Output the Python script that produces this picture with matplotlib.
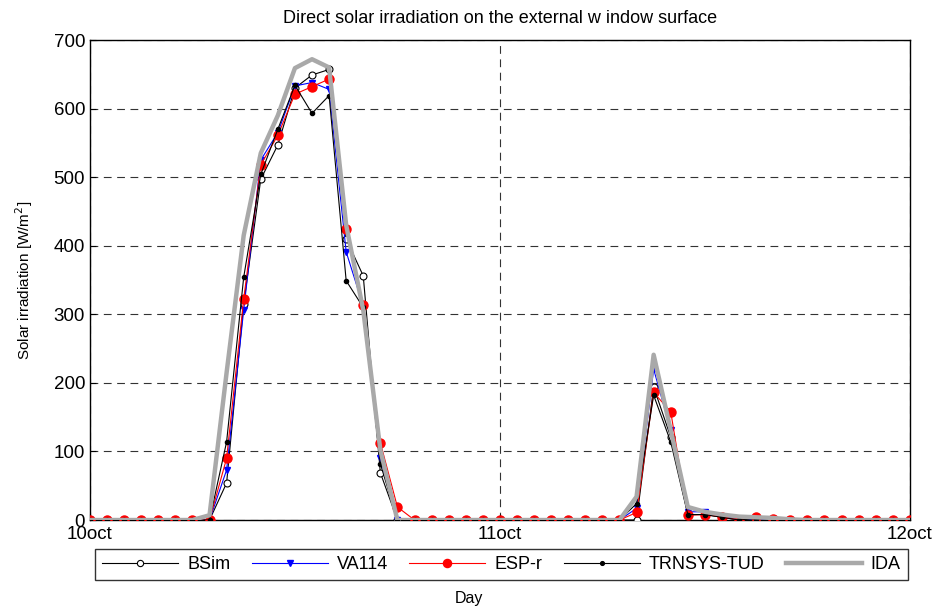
import matplotlib
matplotlib.use("Agg")
import matplotlib.pyplot as plt
import numpy as np

plt.rcParams['font.family'] = ['Liberation Sans', 'DejaVu Sans']

hours = np.arange(49)
xtick_pos = [0, 24, 48]
xtick_labels = ["10oct", "11oct", "12oct"]

bsim = [0, 0, 0, 0, 0, 0, 0, 0, 54, 315, 497, 547, 630, 649, 657, 410, 356, 69, 0,
        0, 0, 0, 0, 0, 0, 0, 0, 0, 0, 0, 0, 0, 0, 194, 121, 8, 8, 4, 0, 2, 1,
        0, 0, 0, 0, 0, 0, 0, 0]
va114 = [0, 0, 0, 0, 0, 0, 0, 0, 73, 306, 525, 565, 633, 638, 628, 391, 312, 90, 0,
         0, 0, 0, 0, 0, 0, 0, 0, 0, 0, 0, 0, 0, 17, 220, 131, 12, 12, 5, 2, 0, 2,
         0, 0, 0, 0, 0, 0, 0, 0]
espr = [0, 0, 0, 0, 0, 0, 0, 0, 90, 322, 518, 561, 621, 632, 643, 425, 313, 113, 19,
        0, 0, 0, 0, 0, 0, 0, 0, 0, 0, 0, 0, 0, 11, 186, 158, 7, 8, 5, 0, 4, 2,
        0, 0, 0, 0, 0, 0, 0, 0]
trnsys = [0, 0, 0, 0, 0, 0, 0, 0, 114, 354, 504, 570, 634, 593, 619, 349, 310, 82, 0,
          0, 0, 0, 0, 0, 0, 0, 0, 0, 0, 0, 0, 0, 24, 182, 114, 8, 8, 4, 0, 2, 1,
          0, 0, 0, 0, 0, 0, 0, 0]
ida = [0, 0, 0, 0, 0, 0, 0, 7, 215, 415, 535, 590, 659, 672, 660, 430, 306, 102, 0,
       0, 0, 0, 0, 0, 0, 0, 0, 0, 0, 0, 0, 0, 34, 241, 131, 19, 12, 8, 5, 4, 3,
       1, 0, 0, 0, 0, 0, 0, 0]

W, H = 938, 609
fig = plt.figure(figsize=(W / 100, H / 100), dpi=100)
ax = fig.add_axes([0.0959, 0.1461, 0.8741, 0.7882])

ax.plot(hours, bsim, color='black', lw=0.8, marker='o', ms=5, mfc='white', mec='black',
        mew=0.8, label='BSim', zorder=3)
ax.plot(hours, va114, color='blue', lw=0.8, marker='v', ms=5, mfc='blue', mec='blue',
        label='VA114', zorder=3)
ax.plot(hours, espr, color='red', lw=0.8, marker='o', ms=6.5, mfc='red', mec='red',
        label='ESP-r', zorder=3)
ax.plot(hours, trnsys, color='black', lw=0.8, marker='o', ms=3, mfc='black', mec='black',
        label='TRNSYS-TUD', zorder=4)
ax.plot(hours, ida, color='#a9a9a9', lw=3.2, label='IDA', zorder=5)

ax.set_xlim(0, 48)
ax.set_ylim(0, 700)
ax.set_xticks(xtick_pos)
ax.set_xticklabels(xtick_labels)
ax.set_yticks(np.arange(0, 701, 100))
ax.tick_params(direction='in', labelsize=13.5, length=4)
ax.tick_params(axis='x', pad=4)
ax.grid(True, color='#333333', linestyle=(0, (7, 5)), lw=0.8)
for s in ax.spines.values():
    s.set_linewidth(1.0)

ax.set_title("Direct solar irradiation on the external w indow surface", fontsize=13, pad=12)
ax.set_ylabel("Solar irradiation [W/m$^2$]", fontsize=11)
ax.yaxis.set_label_coords(-0.067, 0.5)
fig.text(0.5, 0.018, "Day", ha='center', va='center', fontsize=11.5)

# legend box: centred at x ~501, y ~564 (pixels from top-left)
target_w = 813
cx, cy = (91 + 912) / 2 / W, 1 - (548 + 581) / 2 / H
fs = 13
fs_px = fs * 100 / 72
colsp = 2.0
leg = None
for _ in range(3):
    if leg is not None:
        leg.remove()
    leg = fig.legend(loc='center', bbox_to_anchor=(cx, cy), ncol=5, fontsize=fs,
                     frameon=True, fancybox=False, edgecolor='black', handlelength=4.2,
                     handletextpad=0.5, columnspacing=colsp, borderaxespad=0,
                     borderpad=0.4, markerscale=0.9)
    leg.get_frame().set_linewidth(1.0)
    fig.canvas.draw()
    w = leg.get_window_extent().width
    colsp += (target_w - w) / 4 / fs_px

fig.savefig("out.png", dpi=100)
